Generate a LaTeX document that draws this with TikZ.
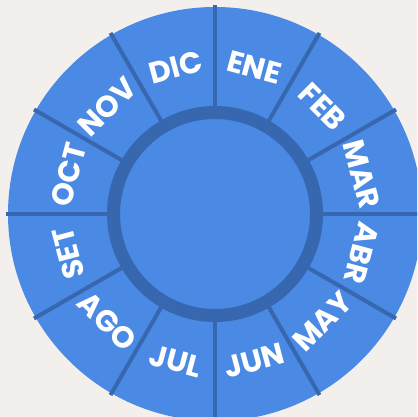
\documentclass[tikz,border=0pt]{standalone}
\usepackage{fontspec}
\setmainfont{Poppins}
\usetikzlibrary{calc}
\definecolor{bg}{HTML}{F2EFEC}
\definecolor{wheel}{HTML}{4A89E4}
\definecolor{rim}{HTML}{3767AF}
\begin{document}
\begin{tikzpicture}[x=1pt,y=1pt,
  month/.style={text=white, font=\bfseries\fontsize{30}{30}\selectfont, inner sep=0pt},
  divider/.style={rim, line width=4pt},
  ring/.style={rim, line width=13pt}]
\useasboundingbox (0,0) rectangle (417,417);
\fill[bg] (0,0) rectangle (417,417);
\clip (0,0) rectangle (417,417);
\coordinate (O) at (215,203);
\fill[wheel] (O) circle (207);
\foreach \a in {0,30,...,330} {
  \coordinate (in\a) at ($(O)+(\a:101)$);
  \coordinate (out\a) at ($(O)+(\a:209)$);
  \draw[divider] (in\a) -- (out\a);
}
\draw[ring] (O) circle (101.5);
\foreach \n/\a in {ENE/75, FEB/45, MAR/15, ABR/-15, SET/195, OCT/165, NOV/135, DIC/105} {
  \node[month, rotate=\a-90] (m\n) at ($(O)+(\a:152)$) {\n};
}
\foreach \n/\a in {MAY/315, JUN/285, JUL/255, AGO/225} {
  \node[month, rotate=\a+90] (m\n) at ($(O)+(\a:152)$) {\n};
}
\end{tikzpicture}
\end{document}
